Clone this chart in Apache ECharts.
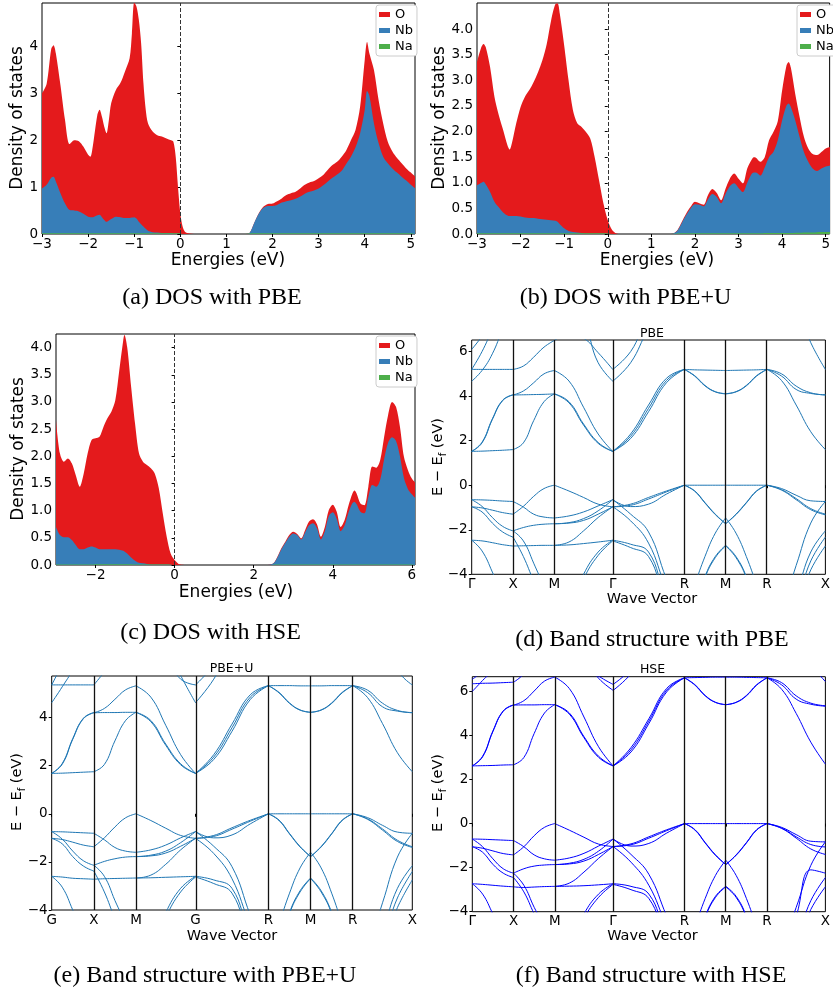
<!DOCTYPE html>
<html><head><meta charset="utf-8">
<script src="https://cdn.jsdelivr.net/npm/echarts@6/dist/echarts.min.js"></script>
<style>html,body{margin:0;padding:0;background:#fff}#c{width:833px;height:997px}</style>
</head><body><div id="c"></div>
<script>
// ---------------- DOS data ----------------
const eA = [
 -3.0,-2.9,-2.8,-2.75,-2.7,-2.6,-2.5,-2.4,-2.3,-2.2,
 -2.1,-2.0,-1.95,-1.9,-1.8,-1.75,-1.7,-1.65,-1.6,-1.55,
 -1.5,-1.4,-1.3,-1.2,-1.1,-1.05,-1.0,-0.95,-0.9,-0.85,
 -0.8,-0.75,-0.7,-0.6,-0.5,-0.4,-0.3,-0.2,-0.15,-0.1,
 -0.05,0.0,0.05,0.1,0.2,0.3,1.4,1.5,1.6,1.7,
 1.8,1.9,2.0,2.1,2.2,2.3,2.4,2.5,2.6,2.7,
 2.8,2.9,3.0,3.1,3.2,3.3,3.4,3.5,3.6,3.7,
 3.8,3.9,4.0,4.05,4.1,4.2,4.3,4.4,4.5,4.6,
 4.7,4.8,4.9,5.0,5.1];
const oA = [
 3.0,3.2,3.95,4.03,3.86,3.18,2.43,1.92,2.0,1.98,
 1.86,1.69,1.65,1.86,2.54,2.65,2.5,2.29,2.15,2.43,
 2.79,3.07,3.22,3.47,3.75,4.28,4.94,4.85,4.57,4.07,
 3.22,2.65,2.36,2.19,2.11,2.08,2.04,2.0,1.97,1.65,
 1.0,0.44,0.16,0.05,0.01,0,0,0.02,0.23,0.44,
 0.58,0.64,0.65,0.7,0.76,0.83,0.87,0.9,0.97,1.05,
 1.1,1.13,1.19,1.26,1.37,1.47,1.54,1.65,1.79,2.0,
 2.22,2.72,3.72,4.1,3.86,3.5,2.86,2.36,1.97,1.76,
 1.62,1.51,1.4,1.31,1.22];
const nbA = [
 0.97,1.05,1.2,1.22,1.12,0.87,0.65,0.51,0.5,0.48,
 0.43,0.37,0.36,0.36,0.4,0.41,0.36,0.3,0.26,0.29,
 0.32,0.37,0.36,0.34,0.34,0.35,0.36,0.33,0.26,0.21,
 0.16,0.11,0.07,0.04,0.03,0.02,0.02,0.02,0.01,0.01,
 0.01,0.005,0,0,0,0,0,0.02,0.23,0.43,
 0.56,0.6,0.6,0.62,0.67,0.7,0.72,0.75,0.8,0.86,
 0.9,0.93,0.97,1.04,1.12,1.2,1.27,1.35,1.5,1.65,
 1.85,2.15,2.65,3.05,2.95,2.36,1.94,1.65,1.51,1.4,
 1.31,1.22,1.14,1.05,0.97];
const naA = [
 0.015,0.015,0.015,0.015,0.015,0.015,0.015,0.015,0.015,0.015,
 0.015,0.015,0.015,0.015,0.015,0.015,0.015,0.015,0.015,0.015,
 0.015,0.015,0.015,0.015,0.015,0.015,0.015,0.015,0.015,0.015,
 0.015,0.015,0.015,0.015,0.015,0.015,0.015,0.015,0.015,0.015,
 0.015,0.01,0,0,0,0,0,0.01,0.015,0.015,
 0.015,0.015,0.015,0.015,0.015,0.015,0.015,0.015,0.015,0.015,
 0.015,0.015,0.015,0.015,0.015,0.015,0.015,0.015,0.015,0.015,
 0.015,0.015,0.015,0.015,0.015,0.015,0.015,0.015,0.015,0.015,
 0.015,0.015,0.015,0.015,0.015];

const eB = [
 -3.0,-2.9,-2.85,-2.8,-2.7,-2.6,-2.5,-2.4,-2.3,-2.25,
 -2.2,-2.1,-2.0,-1.9,-1.8,-1.7,-1.6,-1.5,-1.4,-1.3,
 -1.2,-1.15,-1.1,-1.0,-0.9,-0.8,-0.7,-0.6,-0.5,-0.4,
 -0.3,-0.2,-0.1,0.0,0.1,0.2,0.3,1.4,1.5,1.6,
 1.7,1.8,1.9,2.0,2.1,2.2,2.3,2.4,2.5,2.6,
 2.7,2.8,2.9,3.0,3.1,3.2,3.3,3.35,3.4,3.5,
 3.6,3.7,3.8,3.9,4.0,4.1,4.15,4.2,4.3,4.4,
 4.5,4.6,4.7,4.8,4.9,5.0,5.1];
const oB = [
 3.36,3.65,3.71,3.65,3.26,2.68,2.32,2.03,1.73,1.65,
 1.77,2.16,2.48,2.68,2.81,2.97,3.16,3.39,3.71,4.17,
 4.49,4.5,4.3,3.68,3.0,2.42,2.16,2.09,1.99,1.86,
 1.5,1.05,0.6,0.27,0.08,0.01,0,0,0.01,0.08,
 0.24,0.4,0.53,0.63,0.6,0.57,0.76,0.88,0.8,0.66,
 0.88,1.08,1.18,1.08,0.99,1.28,1.45,1.5,1.49,1.41,
 1.5,1.83,1.99,2.2,2.8,3.29,3.36,3.25,2.74,2.29,
 1.9,1.67,1.56,1.54,1.6,1.67,1.7];
const nbB = [
 0.95,1.0,1.02,0.97,0.82,0.63,0.52,0.42,0.36,0.35,
 0.35,0.35,0.34,0.32,0.31,0.31,0.3,0.29,0.28,0.27,
 0.26,0.24,0.19,0.11,0.06,0.04,0.03,0.02,0.01,0.01,
 0.01,0.01,0.01,0.005,0,0,0,0,0.01,0.07,
 0.22,0.37,0.5,0.58,0.57,0.54,0.68,0.78,0.72,0.6,
 0.78,0.93,0.99,0.9,0.82,1.0,1.17,1.2,1.2,1.14,
 1.3,1.5,1.6,1.83,2.22,2.51,2.55,2.48,2.22,1.9,
 1.6,1.41,1.28,1.23,1.28,1.32,1.34];
const naB = [
 0.015,0.015,0.015,0.015,0.015,0.015,0.015,0.015,0.015,0.015,
 0.015,0.015,0.015,0.015,0.015,0.015,0.015,0.015,0.015,0.015,
 0.015,0.015,0.015,0.015,0.015,0.015,0.015,0.015,0.015,0.015,
 0.015,0.015,0.015,0.01,0,0,0,0,0.005,0.01,
 0.015,0.015,0.015,0.015,0.015,0.015,0.015,0.015,0.015,0.015,
 0.015,0.015,0.015,0.015,0.015,0.015,0.015,0.015,0.015,0.015,
 0.02,0.02,0.02,0.02,0.02,0.02,0.02,0.02,0.025,0.025,
 0.03,0.03,0.03,0.035,0.04,0.04,0.04];

const eC = [
 -3.0,-2.9,-2.8,-2.7,-2.6,-2.5,-2.4,-2.3,-2.2,-2.1,
 -2.0,-1.9,-1.8,-1.7,-1.6,-1.5,-1.4,-1.3,-1.27,-1.2,
 -1.1,-1.0,-0.9,-0.8,-0.7,-0.6,-0.5,-0.4,-0.3,-0.2,
 -0.1,0.0,0.1,0.2,0.3,2.3,2.4,2.5,2.6,2.7,
 2.8,2.9,3.0,3.1,3.2,3.3,3.4,3.5,3.6,3.7,
 3.8,3.9,4.0,4.1,4.2,4.3,4.4,4.5,4.55,4.6,
 4.7,4.8,4.9,5.0,5.1,5.2,5.3,5.4,5.5,5.6,
 5.7,5.8,5.9,6.0,6.1];
const oC = [
 2.66,2.05,1.9,1.96,1.87,1.65,1.44,1.68,2.05,2.3,
 2.33,2.36,2.54,2.7,2.82,3.03,3.58,4.13,4.23,4.01,
 3.28,2.6,2.05,1.9,1.84,1.78,1.68,1.41,0.95,0.52,
 0.21,0.09,0.02,0.005,0,0,0.005,0.03,0.15,0.31,
 0.43,0.55,0.61,0.57,0.49,0.64,0.8,0.84,0.75,0.52,
 0.7,1.01,1.11,0.98,0.7,0.83,1.1,1.32,1.37,1.32,
 1.13,1.1,1.44,1.81,1.79,1.93,2.36,2.76,3.0,2.91,
 2.54,1.99,1.75,1.59,1.5];
const nbC = [
 0.7,0.55,0.51,0.51,0.46,0.37,0.29,0.29,0.32,0.34,
 0.32,0.29,0.29,0.29,0.29,0.29,0.28,0.26,0.25,0.21,
 0.14,0.08,0.04,0.03,0.02,0.01,0.01,0.01,0.01,0.01,
 0.005,0,0,0,0,0,0.005,0.03,0.14,0.29,
 0.41,0.52,0.58,0.55,0.47,0.6,0.73,0.77,0.68,0.47,
 0.62,0.9,0.97,0.85,0.62,0.73,0.97,1.14,1.16,1.12,
 0.98,0.95,1.25,1.47,1.44,1.57,1.95,2.25,2.35,2.28,
 2.0,1.6,1.4,1.3,1.22];
const naC = [
 0.01,0.01,0.01,0.01,0.01,0.01,0.01,0.01,0.01,0.01,
 0.015,0.015,0.015,0.015,0.015,0.015,0.015,0.015,0.015,0.015,
 0.015,0.01,0.01,0.01,0.01,0.01,0.01,0.01,0.01,0.01,
 0.005,0,0,0,0,0,0,0.005,0.01,0.01,
 0.01,0.01,0.01,0.01,0.01,0.01,0.01,0.01,0.01,0.01,
 0.01,0.01,0.01,0.01,0.01,0.01,0.01,0.01,0.01,0.01,
 0.01,0.01,0.01,0.01,0.01,0.01,0.01,0.01,0.01,0.01,
 0.01,0.01,0.01,0.01,0.01];

const dosNames = ['O','Nb','Na'];
const ticksAx = [-3,-2,-1,0,1,2,3,4,5];
const ticksAy = [0,1,2,3,4];
const ticksBy = [0,0.5,1,1.5,2,2.5,3,3.5,4];
const ticksCx = [-2,0,2,4,6];

// ---------------- Band structure data ----------------
const kNodes = [0, 0.5, 1.0, 1.707, 2.573, 3.073, 3.573, 4.280];
const kFrac = [0, 0.25, 0.5, 0.75, 1];
const kLabGamma = ['\u0393','X','M','\u0393','R','M','R','X'];
const kLabG = ['G','X','M','G','R','M','R','X'];
const ticksBand = [-4,-2,0,2,4,6];
const ticksBandE = [-4,-2,0,2,4];

// energies (eV) of each curve at fractions 0, .25, .5, .75, 1 along each path segment
const bandsD = [
 [ [1.52,1.53,1.55,1.57,1.6],[1.52,1.9,2.95,3.8,4.05],[1.52,1.93,2.98,3.82,4.06],
   [4.67,5.15,5.9,7,8],[5.2,5.2,5.2,5.2,5.2],[5.2,6.0,7,8,8],[6.1,6.7,7.5,8,8],
   [-0.65,-0.66,-0.68,-0.71,-0.73],[-0.97,-1.02,-1.12,-1.23,-1.3],[-0.65,-0.95,-1.45,-1.85,-2.05],
   [-0.97,-1.2,-1.7,-2.1,-2.33],[-2.47,-2.5,-2.58,-2.67,-2.73],[-2.47,-2.95,-3.9,-5,-6] ],
 [ [1.6,1.9,2.9,3.75,4.1],[4.05,4.06,4.07,4.08,4.1],[4.05,4.23,4.6,5.0,5.15],[5.2,5.35,5.75,6.2,6.5],
   [-0.73,-0.98,-1.3,-1.43,-1.47],[-1.3,-0.95,-0.5,-0.15,0],[-2.05,-1.9,-1.8,-1.75,-1.73],
   [-2.33,-3.2,-4.3,-5.3,-6],[-2.05,-2.5,-3.5,-4.6,-6],[-2.73,-2.72,-2.71,-2.7,-2.7] ],
 [ [4.1,3.7,2.7,1.88,1.52],[4.1,3.75,2.75,1.92,1.52],[5.15,4.68,3.5,2.3,1.52],
   [6.5,6.75,6.6,5.95,5.2],[8,7.5,7.2,5.5,4.67],
   [0,-0.26,-0.55,-0.85,-0.97],[-1.47,-1.38,-1.2,-0.93,-0.65],[-1.73,-1.68,-1.5,-1.15,-0.65],
   [-1.73,-1.7,-1.58,-1.3,-0.97],[-2.7,-2.68,-2.62,-2.55,-2.47],[-2.7,-2.55,-2.05,-1.45,-0.97],
   [-6,-5.5,-4.0,-3.0,-2.47],[-6,-5.7,-4.2,-3.15,-2.5] ],
 [ [1.52,2.1,3.3,4.6,5.2],[1.52,2.2,3.45,4.7,5.2],[1.52,2.3,3.6,4.8,5.2],
   [4.67,5.5,7,8,8],[5.2,6.0,7.5,8,8],
   [-0.65,-0.96,-0.85,-0.4,0],[-0.97,-0.85,-0.55,-0.26,0],[-0.97,-0.9,-0.62,-0.3,0],
   [-0.65,-1.3,-2.1,-4.2,-6],[-0.97,-1.6,-2.6,-4.6,-6],[-2.47,-2.65,-3.0,-5,-6],[-2.5,-2.8,-3.2,-5.2,-6] ],
 [ [5.2,4.9,4.46,4.19,4.1],[5.2,4.92,4.48,4.2,4.11],[5.2,5.18,5.17,5.16,5.15],
   [0,0,0,0,0],[0,-0.25,-0.78,-1.3,-1.73],[0,-0.27,-0.8,-1.32,-1.73],
   [-6,-4.5,-3.2,-2.15,-1.47],[-6,-5.5,-4.1,-3.2,-2.7],[-6,-5.6,-4.15,-3.25,-2.72] ],
 [ [4.1,4.19,4.46,4.9,5.2],[4.11,4.2,4.48,4.92,5.2],[5.15,5.16,5.17,5.18,5.2],
   [0,0,0,0,0],[-1.73,-1.3,-0.78,-0.25,0],[-1.73,-1.32,-0.8,-0.27,0],
   [-1.47,-2.15,-3.2,-4.5,-6],[-2.7,-3.2,-4.1,-5.5,-6],[-2.72,-3.25,-4.15,-5.6,-6] ],
 [ [5.2,4.7,3.6,2.4,1.6],[5.2,5.0,4.45,4.15,4.05],[5.2,4.9,4.3,4.12,4.06],[8,8,8,6.4,5.2],
   [0,-0.15,-0.45,-0.7,-0.73],[0,-0.2,-0.6,-1.05,-1.3],[0,-0.22,-0.65,-1.1,-1.33],
   [-6,-5.5,-3.6,-1.7,-0.73],[-6,-6,-4.8,-3.0,-2.05],[-6,-6,-5.2,-3.4,-2.33],[-6,-6,-5.5,-3.8,-2.73] ]
];

const bandsE = [
 [ [1.68,1.69,1.71,1.73,1.75],[1.68,2.06,3.1,3.95,4.2],[1.68,2.09,3.13,3.97,4.21],
   [4.62,5.28,6.0,7,8],[5.36,5.36,5.36,5.36,5.36],[5.36,6.2,7,8,8],
   [-0.74,-0.75,-0.77,-0.79,-0.81],[-1.02,-1.07,-1.18,-1.3,-1.37],[-0.74,-1.05,-1.55,-1.95,-2.14],
   [-1.02,-1.25,-1.78,-2.17,-2.38],[-2.6,-2.63,-2.68,-2.7,-2.72],[-2.6,-3.05,-4.0,-5,-6] ],
 [ [1.75,2.05,3.03,3.87,4.22],[4.2,4.21,4.21,4.22,4.22],[4.2,4.38,4.76,5.15,5.32],[5.36,5.9,6.5,7,7.2],
   [-0.81,-1.08,-1.4,-1.55,-1.6],[-1.37,-1.0,-0.55,-0.17,0],[-2.14,-1.98,-1.87,-1.8,-1.78],
   [-2.38,-3.25,-4.35,-5.3,-6],[-2.14,-2.6,-3.6,-4.6,-6],[-2.72,-2.7,-2.69,-2.68,-2.67] ],
 [ [4.22,3.83,2.85,2.04,1.68],[4.22,3.88,2.9,2.08,1.68],[5.32,4.85,3.68,2.46,1.68],
   [7.2,7,6.5,5.6,5.36],[8,8,7,5.75,4.62],
   [0,-0.28,-0.6,-0.9,-1.02],[-1.6,-1.5,-1.3,-1.0,-0.74],[-1.78,-1.72,-1.55,-1.2,-0.74],
   [-1.78,-1.75,-1.63,-1.35,-1.02],[-2.67,-2.66,-2.64,-2.62,-2.6],[-2.67,-2.55,-2.1,-1.5,-1.02],
   [-6,-5.5,-4.1,-3.1,-2.6],[-6,-5.7,-4.3,-3.25,-2.63] ],
 [ [1.68,2.26,3.43,4.75,5.33],[1.68,2.36,3.58,4.85,5.33],[1.68,2.46,3.73,4.95,5.33],
   [4.62,5.6,7,8,8],[5.36,6.2,7.5,8,8],
   [-0.74,-1.0,-0.88,-0.42,0],[-1.02,-0.9,-0.58,-0.27,0],[-1.02,-0.94,-0.64,-0.31,0],
   [-0.74,-1.35,-2.2,-4.2,-6],[-1.02,-1.65,-2.7,-4.6,-6],[-2.6,-2.75,-3.1,-5,-6],[-2.63,-2.9,-3.3,-5.2,-6] ],
 [ [5.33,5.03,4.59,4.31,4.22],[5.33,5.05,4.61,4.32,4.22],[5.33,5.33,5.33,5.32,5.32],
   [0,0,0,0,0],[0,-0.26,-0.82,-1.36,-1.78],[0,-0.28,-0.84,-1.38,-1.78],
   [-6,-4.6,-3.3,-2.25,-1.6],[-6,-5.5,-4.1,-3.2,-2.67],[-6,-5.6,-4.15,-3.25,-2.69] ],
 [ [4.22,4.31,4.59,5.03,5.33],[4.22,4.32,4.61,5.05,5.33],[5.32,5.32,5.33,5.33,5.33],
   [0,0,0,0,0],[-1.78,-1.36,-0.82,-0.26,0],[-1.78,-1.38,-0.84,-0.28,0],
   [-1.6,-2.25,-3.3,-4.6,-6],[-2.67,-3.2,-4.1,-5.5,-6],[-2.69,-3.25,-4.15,-5.6,-6] ],
 [ [5.33,4.83,3.75,2.54,1.75],[5.33,5.14,4.6,4.3,4.2],[5.33,5.04,4.45,4.27,4.21],[8,8,8,6.0,5.36],
   [0,-0.16,-0.48,-0.76,-0.81],[0,-0.21,-0.63,-1.1,-1.37],[0,-0.23,-0.68,-1.15,-1.4],
   [-6,-5.5,-3.7,-1.8,-0.81],[-6,-6,-4.8,-3.1,-2.16],[-6,-6,-5.2,-3.5,-2.4],[-6,-6,-5.5,-3.9,-2.75] ]
];

const bandsF = [
 [ [2.62,2.63,2.64,2.66,2.67],[2.62,3.03,4.18,5.1,5.38],[2.62,3.06,4.21,5.12,5.39],
   [6.0,6.5,7,8,8],[6.35,6.37,6.38,6.4,6.42],[6.55,7,8,8,8],
   [-0.7,-0.71,-0.73,-0.75,-0.77],[-1.05,-1.12,-1.24,-1.36,-1.42],[-0.7,-1.05,-1.6,-2.05,-2.25],
   [-1.05,-1.3,-1.85,-2.25,-2.45],[-2.73,-2.76,-2.8,-2.84,-2.87],[-2.73,-3.2,-4.1,-5,-6] ],
 [ [2.67,3.0,4.09,5.02,5.4],[5.38,5.39,5.39,5.4,5.4],[5.38,5.58,6.02,6.47,6.65],[6.42,6.8,7.5,8,8],
   [-0.77,-1.05,-1.42,-1.6,-1.66],[-1.42,-1.05,-0.55,-0.17,0],[-2.25,-2.05,-1.93,-1.88,-1.86],
   [-2.45,-3.1,-4.1,-5,-6],[-2.25,-2.8,-3.8,-4.7,-6],[-2.87,-2.9,-2.88,-2.86,-2.85] ],
 [ [5.4,4.97,3.9,3.01,2.62],[5.4,5.02,3.95,3.06,2.62],[6.65,6.13,4.84,3.49,2.62],
   [8,8,7.5,6.6,6.05],[8,8,7.2,6.7,6.32],
   [0,-0.3,-0.62,-0.93,-1.04],[-1.66,-1.56,-1.35,-1.02,-0.7],[-1.86,-1.8,-1.62,-1.25,-0.7],
   [-1.86,-1.83,-1.7,-1.4,-1.04],[-2.85,-2.84,-2.82,-2.78,-2.73],[-2.85,-2.7,-2.2,-1.58,-1.04],
   [-6,-5.5,-4.1,-3.2,-2.73],[-6,-5.7,-4.3,-3.35,-2.76] ],
 [ [2.62,3.25,4.54,5.98,6.62],[2.62,3.35,4.65,6.06,6.62],[2.62,3.45,4.76,6.14,6.62],
   [6.05,6.8,8,8,8],[6.32,7,8,8,8],
   [-0.7,-1.02,-0.9,-0.43,0],[-1.04,-0.92,-0.6,-0.28,0],[-1.04,-0.96,-0.66,-0.32,0],
   [-0.7,-1.4,-2.3,-4.2,-6],[-1.04,-1.75,-2.8,-4.6,-6],[-2.73,-2.85,-3.2,-5,-6],[-2.76,-3.0,-3.4,-5.2,-6] ],
 [ [6.62,6.29,5.8,5.5,5.4],[6.62,6.31,5.82,5.51,5.4],[6.62,6.63,6.64,6.65,6.65],
   [0,0,0,0,0],[0,-0.27,-0.86,-1.42,-1.86],[0,-0.29,-0.88,-1.44,-1.86],
   [-6,-4.7,-3.4,-2.35,-1.66],[-6,-5.5,-4.2,-3.3,-2.85],[-6,-5.6,-4.25,-3.35,-2.87] ],
 [ [5.4,5.5,5.8,6.29,6.62],[5.4,5.51,5.82,6.31,6.62],[6.65,6.65,6.64,6.63,6.62],
   [0,0,0,0,0],[-1.86,-1.42,-0.86,-0.27,0],[-1.86,-1.44,-0.88,-0.29,0],
   [-1.66,-2.35,-3.4,-4.7,-6],[-2.85,-3.3,-4.2,-5.5,-6],[-2.87,-3.35,-4.25,-5.6,-6] ],
 [ [6.62,6.1,5.0,3.7,2.7],[6.62,6.4,5.8,5.47,5.35],[6.62,6.3,5.65,5.42,5.33],[8,8,8,7.2,6.45],
   [0,-0.17,-0.5,-0.8,-0.83],[0,-0.22,-0.66,-1.15,-1.4],[0,-0.2,-0.6,-0.95,-1.06],
   [-6,-5.5,-3.8,-1.9,-0.83],[-6,-6,-4.2,-2.1,-2.25],[-6,-6,-5.2,-3.5,-2.45],[-6,-6,-5.5,-3.9,-2.87] ]
];

// ---------------- rendering ----------------
const FONT = 'DejaVu Sans';
const SERIF = 'Liberation Serif';
const RED = '#e41a1c', BLUE = '#377eb8', GREEN = '#4daf4a';
const fmtInt = v => (v < 0 ? '\u2212' + Math.abs(v) : String(v));
const fmt1 = v => (v < 0 ? '\u2212' + Math.abs(v).toFixed(1) : v.toFixed(1));

const grids = [
  {left: 42, top: 3, width: 373, height: 231},
  {left: 477, top: 3, width: 359, height: 231},
  {left: 56, top: 334, width: 359, height: 231},
  {left: 471.7, top: 340, width: 361, height: 234.3},
  {left: 51.7, top: 676, width: 360.6, height: 234},
  {left: 472.3, top: 676.7, width: 361, height: 235}
].map(g => Object.assign({show: true, borderColor: '#000', borderWidth: 1, backgroundColor: 'transparent'}, g));

function xAx(gi, min, max, ticks, fmt) {
  return {type: 'value', gridIndex: gi, min, max,
    axisLine: {show: false}, splitLine: {show: false},
    axisTick: {show: true, customValues: ticks, length: 3, lineStyle: {color: '#000', width: 1}},
    axisLabel: {show: true, customValues: ticks, margin: 3, color: '#000', fontFamily: FONT, fontSize: 13.5, formatter: fmt}};
}
function yAx(gi, min, max, ticks, fmt) {
  return {type: 'value', gridIndex: gi, min, max,
    axisLine: {show: false}, splitLine: {show: false},
    axisTick: {show: true, customValues: ticks, length: 3, lineStyle: {color: '#000', width: 1}},
    axisLabel: {show: true, customValues: ticks, margin: 4, color: '#000', fontFamily: FONT, fontSize: 13.5, formatter: fmt}};
}
const kFmt = labs => v => { const i = kNodes.findIndex(k => Math.abs(k - v) < 1e-6); return i >= 0 ? labs[i] : ''; };

const xAxis = [
  xAx(0, -3, 5.09, ticksAx, fmtInt),
  xAx(1, -3, 5.09, ticksAx, fmtInt),
  xAx(2, -3, 6.08, ticksCx, fmtInt),
  xAx(3, 0, kNodes[7], kNodes, kFmt(kLabGamma)),
  xAx(4, 0, kNodes[7], kNodes, kFmt(kLabG)),
  xAx(5, 0, kNodes[7], kNodes, kFmt(kLabGamma))
];
const yAxis = [
  yAx(0, 0, 4.93, ticksAy, fmtInt),
  yAx(1, 0, 4.51, ticksBy, fmt1),
  yAx(2, 0, 4.25, ticksBy, fmt1),
  yAx(3, -4, 6.52, ticksBand, fmtInt),
  yAx(4, -4, 5.73, ticksBandE, fmtInt),
  yAx(5, -4, 6.67, ticksBand, fmtInt)
];

const series = [];
function dos(gi, E, O, Nb, Na) {
  [[O, RED, 'O'], [Nb, BLUE, 'Nb'], [Na, GREEN, 'Na']].forEach(([vals, col, name], j) => {
    const s = {type: 'line', name, xAxisIndex: gi, yAxisIndex: gi, data: E.map((e, i) => [e, vals[i]]),
      showSymbol: false, symbol: 'none', smooth: 0.3, clip: true,
      lineStyle: {width: 0, color: col}, itemStyle: {color: col}, areaStyle: {color: col, opacity: 1},
      z: 2 + j, silent: true};
    if (j === 2) {
      s.markLine = {silent: true, symbol: ['none', 'none'], label: {show: false},
        lineStyle: {color: '#333', type: [4, 2], width: 1}, data: [{xAxis: 0}]};
    }
    series.push(s);
  });
}
dos(0, eA, oA, nbA, naA);
dos(1, eB, oB, nbB, naB);
dos(2, eC, oC, nbC, naC);

function bands(gi, segs, col) {
  segs.forEach((seg, s) => {
    const k0 = kNodes[s], k1 = kNodes[s + 1];
    seg.forEach(curve => {
      series.push({type: 'line', xAxisIndex: gi, yAxisIndex: gi,
        data: curve.map((E, i) => [k0 + (k1 - k0) * kFrac[i], E]),
        showSymbol: false, symbol: 'none', smooth: 0.45, clip: true, silent: true,
        lineStyle: {width: 1, color: col}, z: 2});
    });
  });
  // vertical high-symmetry lines
  series.push({type: 'line', xAxisIndex: gi, yAxisIndex: gi, data: [], silent: true, z: 3,
    markLine: {silent: true, symbol: ['none', 'none'], label: {show: false},
      lineStyle: {color: '#111', type: 'solid', width: 1.3},
      data: kNodes.slice(1, 7).map(k => ({xAxis: k}))}});
}
bands(3, bandsD, '#1f77b4');
bands(4, bandsE, '#1f77b4');
bands(5, bandsF, '#0000ff');

const legStyle = {orient: 'vertical', icon: 'rect', itemWidth: 11, itemHeight: 5, itemGap: 3,
  backgroundColor: '#fff', borderColor: '#cccccc', borderWidth: 1, borderRadius: 3, padding: [3, 4, 3, 3],
  selectedMode: false, data: dosNames, textStyle: {fontFamily: FONT, fontSize: 13, color: '#000'}};
const legend = [
  Object.assign({left: 376, top: 5}, legStyle),
  Object.assign({left: 797, top: 5}, legStyle),
  Object.assign({left: 376, top: 336}, legStyle)
];

function txt(text, x, y, size, opts) {
  return Object.assign({type: 'text', x, y, silent: true,
    style: {text, fill: '#000', fontFamily: (opts && opts.family) || FONT, fontSize: size,
      align: 'center', verticalAlign: 'middle', rich: (opts && opts.rich) || undefined}},
    opts && opts.rotation ? {rotation: opts.rotation} : {});
}
const R90 = Math.PI / 2;
const subRich = {sub: {fontSize: 10, fontFamily: FONT, padding: [9, 0, 0, 0]}};
const CAP = 24;
const graphic = [
  txt('Energies (eV)', 228, 261, 17), txt('Density of states', 18, 118, 17, {rotation: R90}),
  txt('Energies (eV)', 657, 261, 17), txt('Density of states', 440, 118, 17, {rotation: R90}),
  txt('Energies (eV)', 236, 593, 17), txt('Density of states', 18.5, 449, 17, {rotation: R90}),
  txt('Wave Vector', 652, 599, 14.5), txt('E \u2212 E{sub|f} (eV)', 438.5, 457, 14.5, {rotation: R90, rich: subRich}),
  txt('PBE', 652, 334, 12.5),
  txt('Wave Vector', 232, 936, 14.5), txt('E \u2212 E{sub|f} (eV)', 17.5, 792, 14.5, {rotation: R90, rich: subRich}),
  txt('PBE+U', 231.5, 669, 12.5),
  txt('Wave Vector', 652.5, 936.5, 14.5), txt('E \u2212 E{sub|f} (eV)', 438.5, 793, 14.5, {rotation: R90, rich: subRich}),
  txt('HSE', 652.5, 670, 12.5),
  txt('(a) DOS with PBE', 212, 298, CAP, {family: SERIF}),
  txt('(b) DOS with PBE+U', 625.5, 298, CAP, {family: SERIF}),
  txt('(c) DOS with HSE', 210.5, 633, CAP, {family: SERIF}),
  txt('(d) Band structure with PBE', 652, 640, CAP, {family: SERIF}),
  txt('(e) Band structure with PBE+U', 205, 976, CAP, {family: SERIF}),
  txt('(f) Band structure with HSE', 651, 976, CAP, {family: SERIF})
];

const chart = echarts.init(document.getElementById('c'), null, {renderer: 'canvas'});
chart.setOption({animation: false, backgroundColor: '#fff', grid: grids, xAxis, yAxis, series, legend, graphic});
</script></body></html>
